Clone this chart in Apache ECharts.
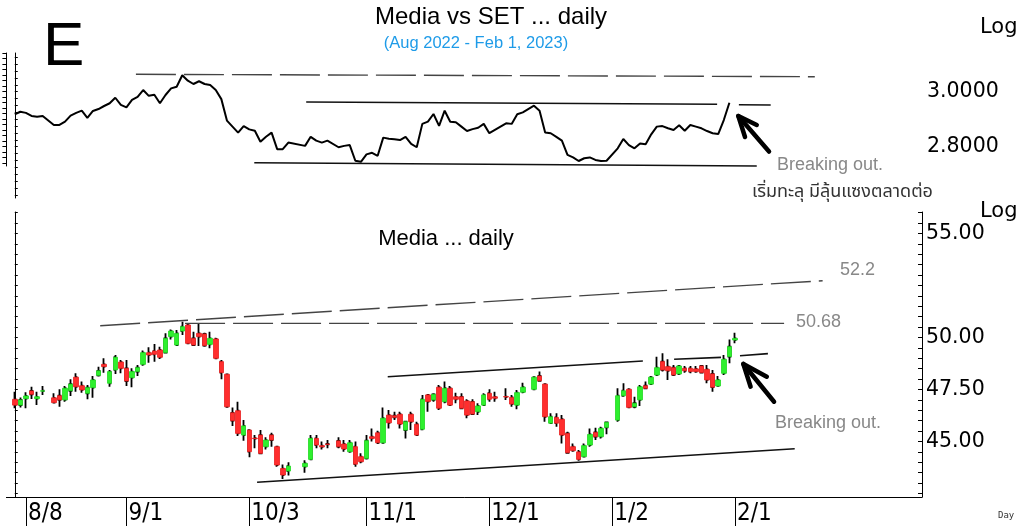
<!DOCTYPE html>
<html lang="th">
<head>
<meta charset="UTF-8">
<title>Media vs SET ... daily</title>
<script src="https://cdn.jsdelivr.net/npm/echarts@6/dist/echarts.min.js"></script>
<style>
  html, body { margin: 0; padding: 0; background: #fff; }
  #main { width: 1019px; height: 526px; }
</style>
</head>
<body>
<div id="main"></div>
<script>
// Media / SET ratio, one value per weekday starting 4 Aug 2022 (null = market closed)
var ratio = [
  2.918, 2.927, 2.923, 2.912, 2.909, 2.912, null, 2.879, 2.879, 2.891,
  2.913, 2.923, 2.931, 2.905, 2.930, 2.937, 2.948, 2.958, 2.978, 2.952,
  2.943, 2.970, 2.981, 3.006, 2.985, 2.989, 2.958, 2.988, 3.012, 3.018,
  3.060, 3.040, 3.028, 3.038, 3.028, 3.024, 3.006, 2.973, 2.895, 2.873,
  2.851, 2.875, 2.863, 2.858, 2.818, 2.836, 2.851, 2.791, 2.791, 2.815,
  null, null, 2.803, 2.836, 2.822, 2.815, 2.822, null, 2.798, 2.803,
  2.806, 2.749, 2.745, 2.772, 2.778, 2.767, 2.833, 2.829, 2.827, 2.824,
  2.836, 2.810, 2.798, 2.883, 2.891, 2.919, 2.876, 2.931, 2.891, 2.889,
  2.873, 2.857, 2.864, 2.869, 2.883, 2.849, 2.861, null, 2.885, 2.883,
  2.918, 2.925, null, 2.949, 2.931, 2.852, 2.849, 2.836, 2.822, 2.770,
  2.761, 2.748, 2.758, 2.761, 2.752, 2.748, 2.749, null, 2.794, 2.828,
  2.806, 2.794, 2.812, 2.809, 2.845, 2.873, 2.875, 2.867, 2.861, 2.878,
  2.858, 2.879, 2.873, 2.867, 2.857, 2.849, 2.846, 2.897, 2.960
];

// Media daily candles [open, close, low, high], same weekday order
var media = [
  [47.03, 46.75, 46.60, 47.39], [46.75, 47.00, 46.64, 47.12], [47.06, 47.19, 46.60, 47.37],
  [47.43, 47.27, 47.04, 47.63], [47.06, 47.15, 46.75, 47.39], [47.42, 47.44, 47.24, 47.67],
  null,
  [47.10, 46.87, 46.84, 47.32], [47.20, 47.00, 46.67, 47.51], [47.00, 47.56, 46.91, 47.67],
  [47.44, 47.76, 47.19, 47.99], [48.09, 47.63, 47.39, 48.28], [47.68, 47.48, 47.35, 47.88],
  [47.32, 47.59, 47.03, 47.72], [47.59, 47.96, 47.10, 48.15], [48.18, 48.40, 48.12, 48.60],
  [48.71, 48.60, 48.31, 49.00], [47.80, 48.36, 47.63, 48.44], [48.44, 49.05, 48.25, 49.16],
  [48.82, 48.52, 48.28, 48.92], [48.52, 47.91, 47.67, 48.92], [48.07, 48.36, 47.61, 48.52],
  [48.36, 48.55, 48.15, 48.68], [48.71, 49.27, 48.64, 49.37], [49.27, 49.16, 48.79, 49.53],
  [49.35, 49.19, 48.84, 49.69], [49.40, 49.05, 48.97, 49.56], [49.27, 49.96, 49.24, 50.20],
  [50.04, 50.31, 49.91, 50.39], [49.64, 50.20, 49.61, 50.36], [50.31, 50.52, 50.12, 50.76],
  [50.60, 49.72, 49.69, 50.65], [49.96, 49.64, 49.61, 50.28], [50.20, 50.04, 49.59, 50.65],
  [50.17, 49.61, 49.56, 50.23], [49.67, 49.96, 49.48, 50.28], [49.93, 49.00, 48.97, 49.99],
  [48.84, 48.31, 47.99, 48.92], [48.23, 46.67, 46.64, 48.25], [46.38, 46.00, 45.75, 46.64],
  [46.48, 45.39, 45.26, 46.91], [45.31, 45.75, 45.04, 46.03], [45.55, 44.51, 44.24, 45.59],
  [45.16, 45.14, 44.67, 45.31], [45.31, 44.43, 44.39, 45.55], [44.75, 45.07, 44.62, 45.20],
  [45.31, 45.07, 44.75, 45.42], [44.75, 43.87, 43.79, 44.78], [43.70, 43.39, 43.20, 43.90],
  [43.58, 43.82, 43.36, 44.00],
  null, null,
  [43.79, 43.95, 43.50, 44.10], [44.14, 45.15, 44.11, 45.31], [45.15, 44.83, 44.67, 45.31],
  [44.80, 44.74, 44.62, 45.00], [44.88, 44.86, 44.67, 45.07],
  null,
  [45.03, 44.75, 44.67, 45.20], [44.88, 44.64, 44.51, 45.07], [44.51, 44.94, 44.46, 45.07],
  [44.75, 43.91, 43.79, 45.00], [44.27, 44.03, 43.95, 44.43], [44.19, 45.04, 44.14, 45.31],
  [45.23, 45.15, 45.00, 45.63], [45.42, 44.94, 44.88, 45.52], [44.94, 46.12, 44.91, 46.64],
  [46.27, 45.90, 45.63, 46.51], [46.24, 46.16, 46.03, 46.43], [46.31, 45.84, 45.63, 46.43],
  [45.55, 45.95, 45.15, 46.00], [46.31, 45.95, 45.55, 46.43], [45.83, 45.31, 45.26, 45.95],
  [45.59, 47.03, 45.55, 47.24], [47.24, 46.92, 46.43, 47.28], [47.00, 47.27, 46.91, 47.32],
  [47.61, 46.60, 46.51, 47.72], [46.91, 47.56, 46.84, 47.88], [47.56, 46.75, 46.71, 47.67],
  [47.15, 47.03, 46.84, 47.35], [47.15, 46.60, 46.55, 47.32], [46.95, 46.27, 46.12, 47.03],
  [46.91, 46.32, 46.27, 47.03], [46.43, 46.71, 46.27, 46.84], [46.75, 47.24, 46.71, 47.32],
  [47.32, 47.03, 46.91, 47.51], [47.15, 47.08, 46.91, 47.39],
  null,
  [47.16, 47.14, 47.00, 47.56], [47.12, 46.80, 46.67, 47.24], [46.75, 47.35, 46.55, 47.48],
  [47.37, 47.61, 47.32, 47.83],
  null,
  [47.51, 48.09, 47.48, 48.12], [48.15, 47.92, 47.88, 48.36], [47.76, 46.19, 45.95, 47.80],
  [45.88, 46.19, 45.85, 46.36], [46.16, 45.88, 45.71, 46.36], [46.07, 45.31, 44.91, 46.27],
  [45.39, 44.46, 44.43, 45.47], [44.75, 44.56, 44.51, 44.91], [44.50, 44.14, 44.08, 44.59],
  [44.27, 44.80, 44.25, 44.91], [44.83, 45.34, 44.75, 45.63], [45.44, 45.23, 45.07, 45.66],
  [45.23, 45.63, 45.15, 45.71], [45.68, 45.92, 45.35, 45.95],
  null,
  [46.03, 47.20, 45.95, 47.56], [47.20, 47.44, 47.15, 47.80], [47.51, 46.64, 46.60, 47.56],
  [46.67, 46.84, 46.60, 47.15], [47.00, 47.63, 46.71, 47.72], [47.68, 47.56, 47.54, 47.88],
  [47.76, 48.09, 47.72, 48.15], [48.20, 48.55, 48.15, 49.08], [48.84, 48.44, 48.36, 49.24],
  [48.60, 48.40, 47.96, 48.95], [48.55, 48.20, 48.15, 48.68], [48.25, 48.63, 48.20, 48.68],
  [48.52, 48.40, 48.31, 48.63], [48.52, 48.36, 48.28, 48.63], [48.49, 48.36, 48.31, 48.63],
  [48.63, 48.31, 48.28, 48.68], [48.47, 47.96, 47.80, 48.68], [48.25, 47.61, 47.39, 48.44],
  [47.67, 47.96, 47.65, 48.15], [48.28, 48.95, 48.20, 49.16], [49.08, 49.56, 48.76, 49.91],
  [49.88, 49.96, 49.72, 50.23]
];

var tickLabels = ['8/8', '9/1', '10/3', '11/1', '12/1', '1/2', '2/1'];
var ratioLabels = [2.8, 3.0];
var priceLabels = [45, 47.5, 50, 55];

// hand-drawn lines, [weekday index, value]
var ratioTopDash = [[21.7, 3.0633], [143.3, 3.0545]];
var ratioResist1 = [[52.2, 2.9625], [125.8, 2.9542]];
var ratioResist2 = [[129.7, 2.9524], [135.4, 2.9516]];
var ratioSupport = [[42.9, 2.7418], [132.9, 2.7298]];
var ratioArrow = [[135.1, 2.7825], [129.6, 2.9116]];
var ratioArrowHead = [[130.8, 2.8353], [129.6, 2.9116], [132.9, 2.8789]];

var line522 = [[15.3, 50.567], [144.7, 52.731]];
var line5068 = [[30.5, 50.68], [137.8, 50.68]];
var channelTop1 = [[66.8, 48.115], [112.5, 48.87]];
var channelTop2 = [[118.1, 48.952], [126.5, 49.043]];
var channelTop3 = [[129.9, 49.125], [134.9, 49.226]];
var channelLow = [[43.4, 43.038], [139.7, 44.654]];
var priceArrow = [[136.0, 46.913], [130.5, 48.726]];
var priceArrowHead = [[131.8, 47.635], [130.5, 48.726], [134.7, 48.115]];

// weekday categories, one empty slot in front
var days = [''];
var d = new Date(Date.UTC(2022, 7, 4));
while (days.length < 164) {
  var wd = d.getUTCDay();
  if (wd !== 0 && wd !== 6) days.push((d.getUTCMonth() + 1) + '/' + d.getUTCDate());
  d.setUTCDate(d.getUTCDate() + 1);
}
// weekday index of each labelled date (for the long separator ticks)
var tickIdx = tickLabels.map(function (t) { return days.indexOf(t) - 1; });

var ratioData = [null].concat(ratio);
var wickData = ['-'];
var bodyData = ['-'];
media.forEach(function (c) {
  if (!c) { wickData.push('-'); bodyData.push('-'); return; }
  wickData.push(c);
  bodyData.push([c[0], c[1], Math.min(c[0], c[1]), Math.max(c[0], c[1])]);
});

function steps(a, b, s) {
  var out = [];
  for (var v = a; v <= b + 1e-9; v += s) out.push(+v.toFixed(4));
  return out;
}

var showTick = function (i, v) { return tickLabels.indexOf(v) >= 0; };

function drawn(data, xi, yi, style) {
  return {
    type: 'line', xAxisIndex: xi, yAxisIndex: yi, data: data,
    symbol: 'none', silent: true, animation: false, z: 3,
    lineStyle: style
  };
}

var solid = { color: '#111', width: 1.6 };
var dashed = { color: '#444', width: 1.4, type: [40, 8] };
var arrow = { color: '#000', width: 4.5, cap: 'round', join: 'round' };

var myChart = echarts.init(document.getElementById('main'));

var sans = '"Liberation Sans", Arial, sans-serif';
var axisFont = '"DejaVu Sans", Verdana, sans-serif';

function txt(x, y, text, size, color, align, family) {
  return {
    type: 'text', x: x, y: y, silent: true,
    style: {
      text: text, fill: color, align: align || 'left', verticalAlign: 'middle',
      font: 'normal ' + size + 'px ' + (family || sans)
    }
  };
}

myChart.setOption({
  animation: false,
  backgroundColor: '#fff',
  grid: [
    { left: 6.4, top: 53, width: 915.6, height: 145 },
    { left: 6.4, top: 212, width: 915.6, height: 285 },
    { left: 6.4, top: 53, width: 916.6, height: 113 }
  ],
  xAxis: [
    { type: 'category', gridIndex: 0, data: days, show: false },
    {
      type: 'category', gridIndex: 1, data: days, position: 'bottom',
      axisLine: { lineStyle: { color: '#000', width: 1 } },
      axisTick: { show: false },
      axisLabel: {
        interval: showTick, align: 'left', margin: 5, padding: [0, 0, 0, 2],
        color: '#000', fontSize: 24,
        fontFamily: '"DejaVu Sans Condensed", "Liberation Sans Narrow", "DejaVu Sans", sans-serif'
      },
      splitLine: { show: false }
    },
    { type: 'value', gridIndex: 0, min: -1.5, max: 162.5, show: false },
    {
      type: 'value', gridIndex: 1, min: -1.5, max: 162.5, position: 'bottom', offset: 0,
      axisLine: { show: false },
      axisTick: { show: true, customValues: tickIdx, length: 29, lineStyle: { color: '#000', width: 1 } },
      axisLabel: { show: false },
      splitLine: { show: false }
    },
    { type: 'value', gridIndex: 2, min: 0, max: 1, show: false }
  ],
  yAxis: [
    {
      type: 'value', gridIndex: 0, position: 'left', min: 2.6135, max: 3.1407,
      axisLine: { show: true, lineStyle: { color: '#000' } },
      axisTick: { show: true, inside: true, length: 3, customValues: steps(2.625, 3.125, 0.025), lineStyle: { color: '#000' } },
      axisLabel: { show: false }, splitLine: { show: false }
    },
    {
      type: 'value', gridIndex: 1, position: 'left', min: 42.332, max: 56.034,
      axisLine: { show: true, lineStyle: { color: '#000' } },
      axisTick: { show: true, inside: true, length: 3, customValues: steps(42.5, 56, 0.5), lineStyle: { color: '#000' } },
      axisLabel: { show: false }, splitLine: { show: false }
    },
    {
      type: 'value', gridIndex: 2, position: 'right', min: 2.7298, max: 3.1407,
      axisLine: { show: true, lineStyle: { color: '#000' } },
      axisTick: { show: true, inside: true, length: 4, customValues: steps(2.74, 3.14, 0.02), lineStyle: { color: '#000' } },
      axisLabel: {
        customValues: ratioLabels, margin: 4, color: '#000', fontSize: 20.5, fontFamily: axisFont,
        formatter: function (v) { return v.toFixed(4); }
      },
      splitLine: { show: false }
    },
    {
      type: 'value', gridIndex: 1, position: 'right', min: 42.332, max: 56.034,
      axisLine: { show: true, lineStyle: { color: '#000' } },
      axisTick: { show: true, inside: true, length: 4, customValues: steps(42.5, 56, 0.5), lineStyle: { color: '#000' } },
      axisLabel: {
        customValues: priceLabels, margin: 4, color: '#000', fontSize: 20.5, fontFamily: axisFont,
        formatter: function (v) { return v.toFixed(2); }
      },
      splitLine: { show: false }
    }
  ],
  series: [
    {
      type: 'line', xAxisIndex: 0, yAxisIndex: 0, data: ratioData,
      connectNulls: true, symbol: 'none', silent: true, z: 4,
      lineStyle: { color: '#000', width: 2 }
    },
    {
      type: 'candlestick', xAxisIndex: 1, yAxisIndex: 1, data: wickData,
      barWidth: 1.8, silent: true, z: 4,
      itemStyle: { color: '#000', color0: '#000', borderColor: '#000', borderColor0: '#000', borderWidth: 1.8 }
    },
    {
      type: 'candlestick', xAxisIndex: 1, yAxisIndex: 1, data: bodyData,
      barWidth: 5, silent: true, z: 5,
      itemStyle: { color: '#2ef02e', color0: '#ff2e2e', borderColor: '#22d822', borderColor0: '#e82020', borderWidth: 0.8 }
    },
    drawn(ratioTopDash, 2, 0, dashed),
    drawn(ratioResist1, 2, 0, solid),
    drawn(ratioResist2, 2, 0, solid),
    drawn(ratioSupport, 2, 0, solid),
    drawn(ratioArrow, 2, 0, arrow),
    drawn(ratioArrowHead, 2, 0, arrow),
    drawn(line522, 3, 1, dashed),
    drawn(line5068, 3, 1, dashed),
    drawn(channelTop1, 3, 1, solid),
    drawn(channelTop2, 3, 1, solid),
    drawn(channelTop3, 3, 1, solid),
    drawn(channelLow, 3, 1, solid),
    drawn(priceArrow, 3, 1, arrow),
    drawn(priceArrowHead, 3, 1, arrow)
  ],
  graphic: [
    txt(43, 48, 'E', 62, '#000'),
    txt(491, 17, 'Media vs SET ... daily', 24, '#000', 'center'),
    txt(476, 43, '(Aug 2022 - Feb 1, 2023)', 16.5, '#1e9be8', 'center'),
    txt(980, 28, 'Log', 21, '#000', 'left', axisFont),
    txt(980, 212, 'Log', 21, '#000', 'left', axisFont),
    txt(777, 165, 'Breaking out.', 18, '#888'),
    txt(752, 193, 'เริ่มทะลุ มีลุ้นแซงตลาดต่อ', 18, '#333', 'left', '"Noto Sans Thai", "Noto Sans", Tahoma, sans-serif'),
    txt(446, 239, 'Media ... daily', 22, '#000', 'center'),
    txt(840, 270, '52.2', 18, '#888'),
    txt(796, 322, '50.68', 18, '#888'),
    txt(775, 423, 'Breaking out.', 18, '#888'),
    txt(998, 516, 'Day', 9, '#333', 'left', '"DejaVu Sans Mono", "Liberation Mono", monospace')
  ]
});
</script>
</body>
</html>
